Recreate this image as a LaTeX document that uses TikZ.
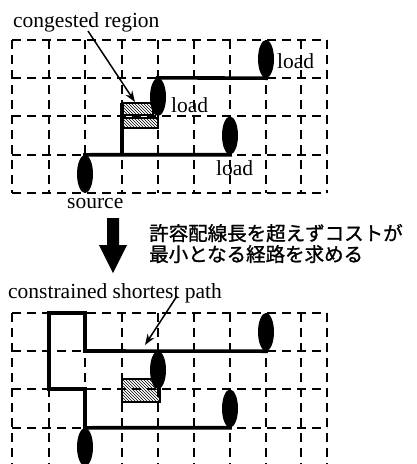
\documentclass[tikz,border=0pt]{standalone}
\usepackage{fontspec}
\setmainfont{Liberation Serif}
\newfontfamily\jpfont[FakeBold=1.2]{Noto Sans CJK JP}
\usetikzlibrary{patterns,arrows.meta,shapes.geometric}
\tikzset{
  gridline/.style={line width=1.6pt, dash pattern=on 9pt off 6pt},
  wire/.style={line width=3.6pt, line cap=rect},
  loadell/.style={ellipse, fill=black, draw=none, minimum width=16pt, minimum height=38pt, inner sep=0pt},
  hatchbox/.style={pattern=north west lines, draw=black, line width=1.6pt},
  lbl/.style={font=\fontsize{21.5}{24}\selectfont, inner sep=0pt, anchor=base west},
  jplbl/.style={font=\jpfont\fontsize{19.5}{21}\selectfont, inner sep=0pt, anchor=base west},
  ptr/.style={line width=1.5pt, -{Stealth[length=11pt,width=8pt]}},
  bigarrow/.style={fill=black, draw=none}
}
\begin{document}
\begin{tikzpicture}[x=1pt,y=-1pt]
\useasboundingbox (0,0) rectangle (417,464);
\clip (0,0) rectangle (417,464);
% ---------- top grid ----------
\foreach \yy in {40,78,116,155,193} \draw[gridline] (12,\yy) -- (327,\yy);
\foreach \xx in {12,49,85,122,158,194,230,266,301,327} \draw[gridline] (\xx,40) -- (\xx,193);
% ---------- bottom grid ----------
\foreach \yy in {313,351,389,428} \draw[gridline] (12,\yy) -- (327,\yy);
\foreach \xx in {12,49,85,122,158,194,230,266,301,327} \draw[gridline] (\xx,313) -- (\xx,470);

% ---------- top routing ----------
\node[loadell] (s1) at (85,174) {};
\node[loadell] (l1) at (230,135.5) {};
\node[loadell] (l2) at (158,97) {};
\node[loadell] (l3) at (266,59) {};
\coordinate (t1) at (122,155);
\coordinate (t2) at (122,103);
\draw[wire] (s1.north) -- (l1.south);
\draw[wire, line cap=butt] (t1) -- (t2);
\draw[wire] (l2.north) -- (l3.south);
\draw[hatchbox] (122,103) rectangle (153,115);
\draw[hatchbox] (122,118) rectangle (158,128);

\node[lbl] (src) at (67,208) {source};
\node[lbl] (ld1) at (277,68) {load};
\node[lbl] (ld2) at (171,112) {load};
\node[lbl] (ld3) at (216,175) {load};
\node[lbl] (cr) at (13,27) {congested region};
\coordinate (crtail) at (88,31);
\coordinate (crtip) at (135,102);
\draw[ptr] (crtail) -- (crtip);

% ---------- big arrow and caption ----------
\fill[bigarrow] (107,218) -- (119,218) -- (119,245) -- (127,245) -- (113,273) -- (99,245) -- (107,245) -- cycle;
\node[jplbl] (jp1) at (149,240.5) {許容配線長を超えずコストが};
\node[jplbl] (jp2) at (149,261.5) {最小となる経路を求める};

% ---------- bottom routing ----------
\node[loadell] (s2) at (85,447) {};
\node[loadell] (l4) at (230,408.5) {};
\node[loadell] (l5) at (266,332) {};
\node[loadell] (l6) at (158,370) {};
\draw[hatchbox] (122,379) rectangle (160,402);
\draw[wire, line join=miter] (s2.north) -- (85,389) -- (49,389) -- (49,313) -- (85,313) -- (85,351) -- (l5.south);
\draw[wire] (s2.north) -- (l4.south);
\node[lbl] (csp) at (8,298) {constrained shortest path};
\coordinate (csptail) at (177,296);
\coordinate (csptip) at (145,345);
\draw[ptr] (csptail) -- (csptip);
\end{tikzpicture}
\end{document}
